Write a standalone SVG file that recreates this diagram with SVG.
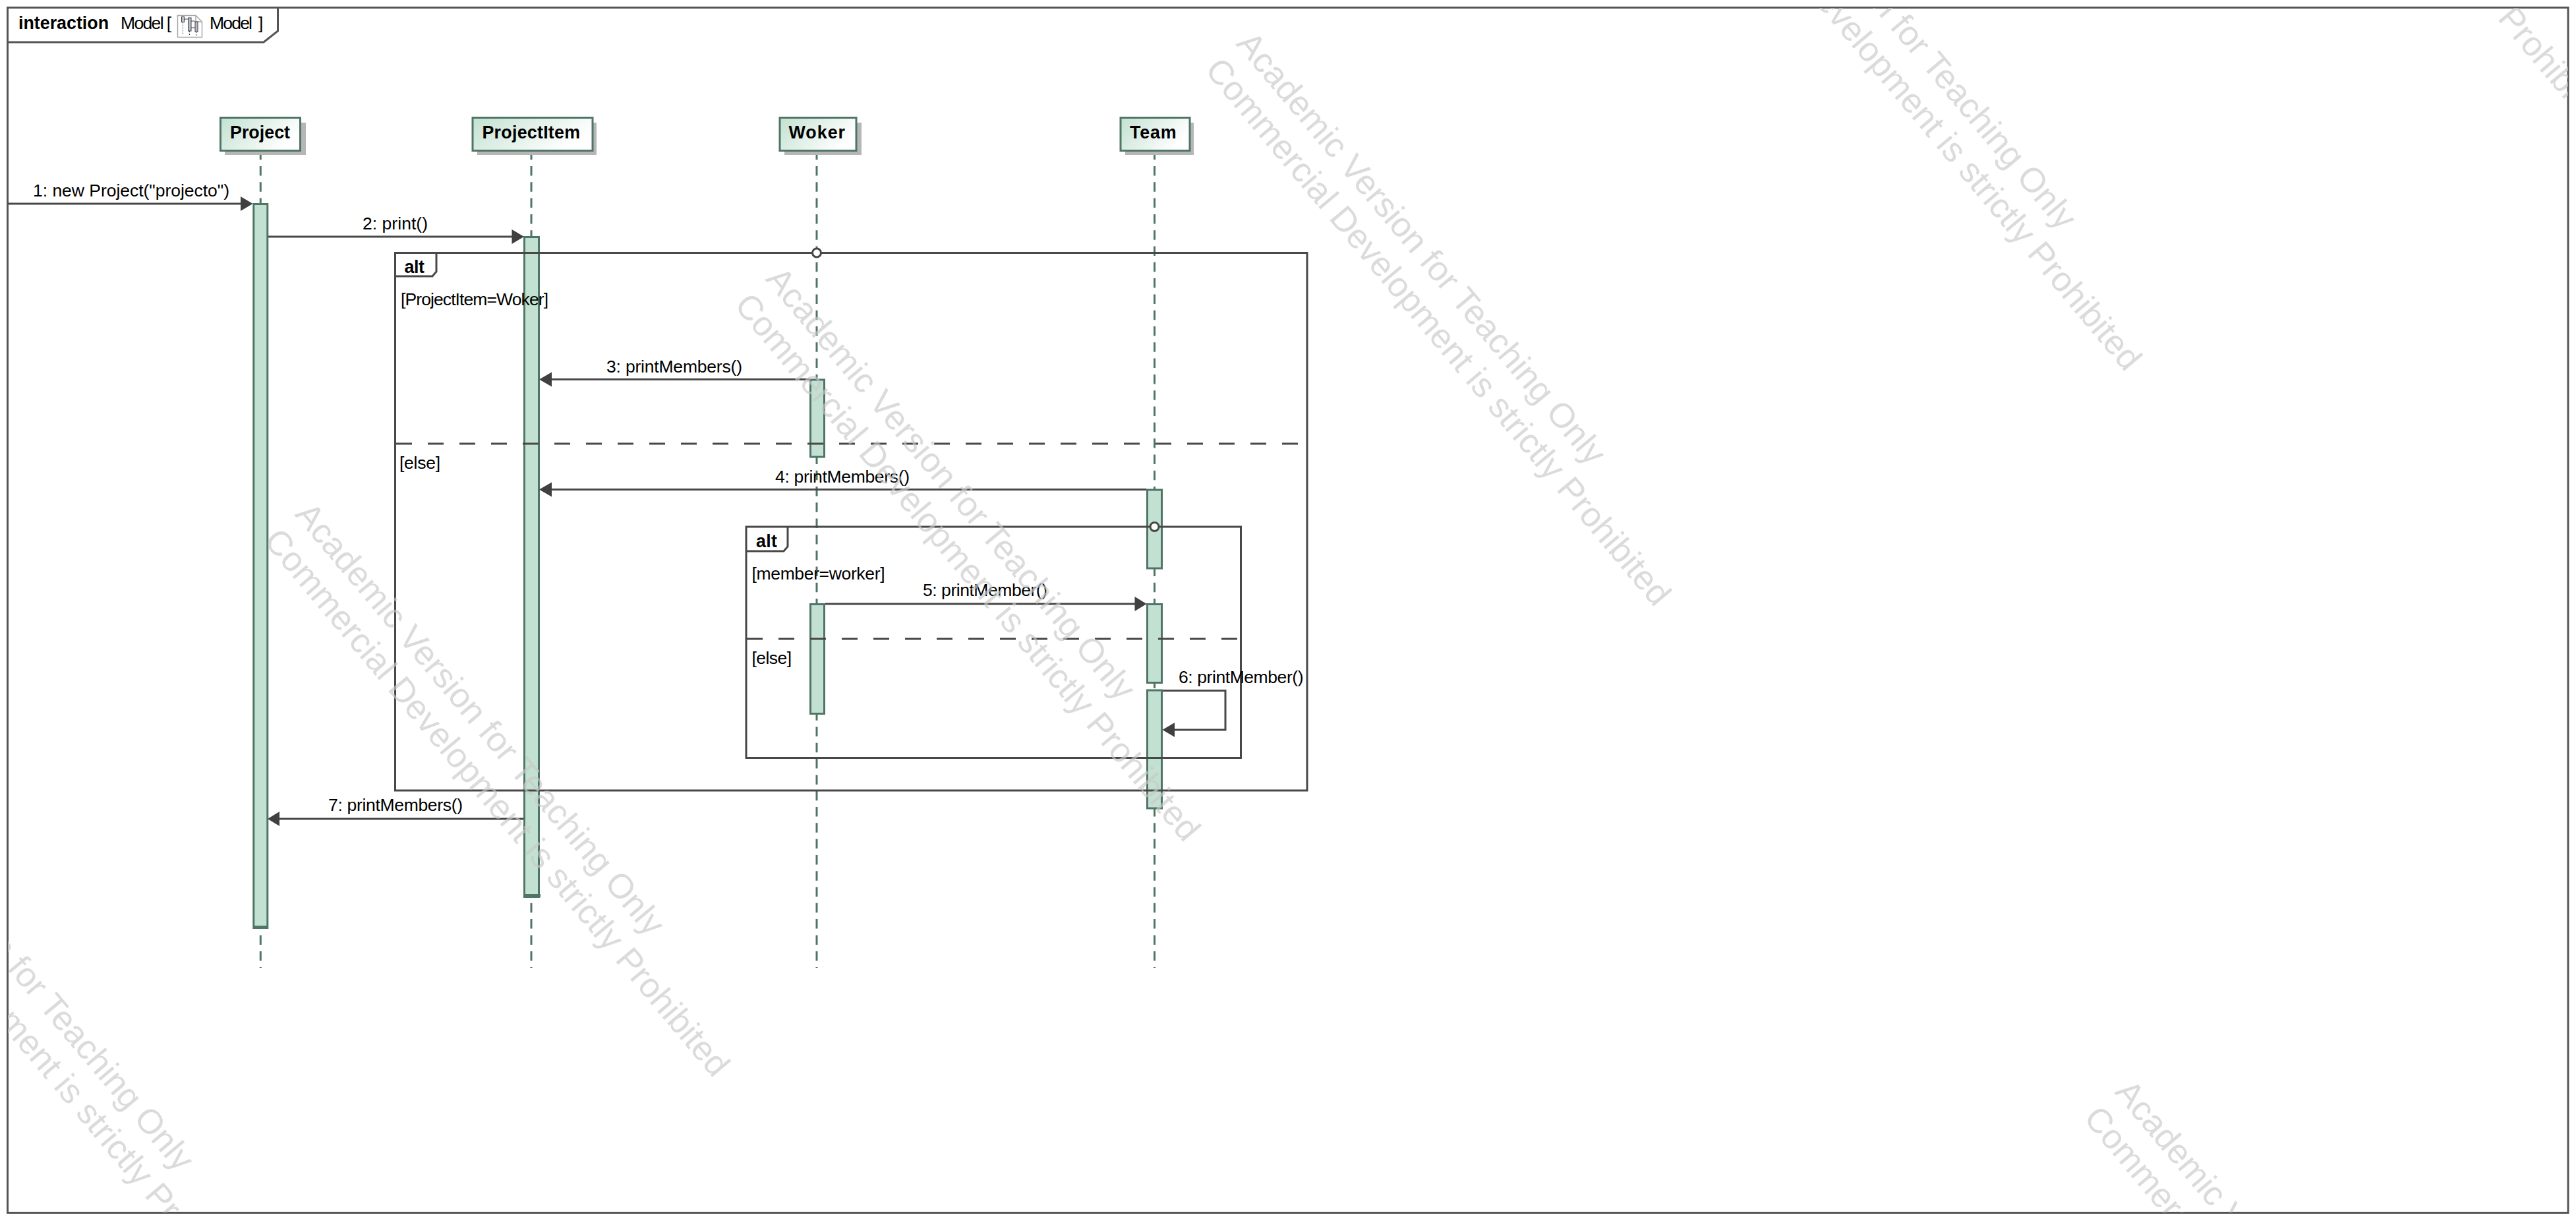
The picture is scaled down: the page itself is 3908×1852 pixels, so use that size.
<svg xmlns="http://www.w3.org/2000/svg" width="3908" height="1852" viewBox="0 0 3908 1852">
<style>
text{font-family:"Liberation Sans",Arial,sans-serif;fill:#000}
.t{font-size:26.5px}
.b{font-size:26.8px;font-weight:700}
.wm{font-size:52.2px;fill:#c8c8c8;fill-opacity:.65}
.frame{fill:none;stroke:#555;stroke-width:3}
.line{fill:none;stroke:#484848;stroke-width:3}
.div{fill:none;stroke:#484848;stroke-width:3;stroke-dasharray:24 24}
.life{fill:none;stroke:#4f7566;stroke-width:3;stroke-dasharray:14.5 9.8;stroke-dashoffset:1.3}
.box{fill:url(#g);stroke:#4f7566;stroke-width:3}
.shadow{fill:#b6b6b6}
.act{fill:#c3e1d2;stroke:#4f7566;stroke-width:3}
.head{fill:#404040}
.dot{fill:#fff;stroke:#484848;stroke-width:3}
</style>
<defs>
<linearGradient id="g" x1="0" y1="0" x2="1" y2="0.4"><stop offset="0" stop-color="#c3e1d2"/><stop offset="1" stop-color="#fff"/></linearGradient>
<clipPath id="fc"><rect x="12" y="12" width="3884" height="1827"/></clipPath>
</defs>
<rect width="3908" height="1852" fill="#fff"/>
<rect class="frame" x="11.5" y="11.5" width="3884.5" height="1828"/>

<g id="lifelines">
<path class="life" d="M395.3 229V1468"/>
<path class="life" d="M806 229V1468"/>
<path class="life" d="M1239 229V1468"/>
<path class="life" d="M1751.5 229V1468"/>
</g>

<g id="node-project"><rect class="shadow" x="341" y="186" width="123" height="49"/><rect class="box" x="334.5" y="178.5" width="121" height="50"/><text class="b" x="349" y="210" textLength="91">Project</text></g>
<g id="node-projectitem"><rect class="shadow" x="724" y="186" width="181" height="49"/><rect class="box" x="717" y="178.5" width="182" height="50"/><text class="b" x="731.5" y="210" textLength="148.5">ProjectItem</text></g>
<g id="node-woker"><rect class="shadow" x="1190" y="186" width="117" height="49"/><rect class="box" x="1183" y="178.5" width="116" height="50"/><text class="b" x="1196.5" y="210" textLength="85.5">Woker</text></g>
<g id="node-team"><rect class="shadow" x="1707" y="186" width="104" height="49"/><rect class="box" x="1700" y="178.5" width="105" height="50"/><text class="b" x="1714" y="210" textLength="70.5">Team</text></g>

<g id="activations">
<rect class="act" x="384.8" y="309.5" width="21" height="1098"/>
<path class="line" style="stroke:#4f7566" d="M384 1405.5H407"/>
<rect class="act" x="795.5" y="359.5" width="22" height="1001"/>
<path class="line" style="stroke:#4f7566;stroke-width:5" d="M794 1358.5H820"/>
<rect class="act" x="1229.5" y="576" width="21" height="117"/>
<rect class="act" x="1740.5" y="743" width="22" height="119"/>
<rect class="act" x="1229.5" y="916.5" width="21" height="166"/>
<rect class="act" x="1740.5" y="916.5" width="22" height="119"/>
<rect class="act" x="1740.5" y="1047" width="22" height="179"/>
</g>

<g id="fragment-alt-outer">
<path class="line" d="M599.5 383.5H1983V1199H599.5Z"/>
<path class="line" d="M599.5 419H656L662 412V383.5"/>
<path class="div" d="M601 673H1983"/>
<circle class="dot" cx="1239" cy="383.5" r="6.5"/>
<text class="b" x="613.5" y="414" textLength="30.5">alt</text>
<text class="t" x="608" y="463" textLength="224">[ProjectItem=Woker]</text>
<text class="t" x="606" y="711" textLength="62">[else]</text>
</g>
<g id="fragment-alt-inner">
<path class="line" d="M1132 799H1882.5V1149.5H1132Z"/>
<path class="line" d="M1132 836H1189L1195 829V799"/>
<path class="div" d="M1133 969H1882"/>
<circle class="dot" cx="1751.5" cy="799" r="6.5"/>
<text class="b" x="1147" y="830" textLength="32">alt</text>
<text class="t" x="1140.5" y="879" textLength="202">[member=worker]</text>
<text class="t" x="1140.5" y="1007" textLength="60.5">[else]</text>
</g>

<g id="connectors">
<path class="line" d="M12 309H368"/><path class="head" d="M383.5 309L365 298V320Z"/>
<path class="line" d="M407 359H778"/><path class="head" d="M795 359L776.5 348V370Z"/>
<path class="line" d="M1229 575.500H836"/><path class="head" d="M818 575.500L837 564.500V586.500Z"/>
<path class="line" d="M1739 742.500H836"/><path class="head" d="M818 742.500L837 731.500V753.500Z"/>
<path class="line" d="M1252 916H1724"/><path class="head" d="M1739.500 916L1721.500 905V927Z"/>
<path class="line" d="M1764 1047.500H1859V1107H1780"/><path class="head" d="M1763.500 1107L1782 1096V1118Z"/>
<path class="line" d="M794 1242H422"/><path class="head" d="M406 1242L424 1231V1253Z"/>
<text class="t" x="50" y="298" textLength="298">1: new Project("projecto")</text>
<text class="t" x="550" y="348" textLength="99">2: print()</text>
<text class="t" x="920" y="564.500" textLength="206">3: printMembers()</text>
<text class="t" x="1176" y="731.500" textLength="204">4: printMembers()</text>
<text class="t" x="1400" y="904" textLength="189">5: printMember()</text>
<text class="t" x="1788" y="1035.500" textLength="189.500">6: printMember()</text>
<text class="t" x="498" y="1230" textLength="204">7: printMembers()</text>
</g>

<g id="diagram-header">
<path class="frame" d="M11.500 64H400L421.500 47V11.500"/>
<text class="b" x="28" y="44" textLength="137">interaction</text>
<text class="t" x="183" y="44" textLength="77">Model [</text>
<g fill="none" stroke="#a8a8a8" stroke-width="1.500">
<path fill="#fff" d="M269.500 23.500H297L306.500 33V56.500H269.500Z"/><path d="M297 23.500V33H306.500"/>
</g>
<g fill="#b8bdd0" stroke="#444" stroke-width="1">
<rect x="275.500" y="25.500" width="4" height="8"/><rect x="285.500" y="27" width="4.500" height="20"/><rect x="296" y="33" width="4" height="15"/>
<path fill="none" stroke-dasharray="2 2" d="M277.500 33.500V52M287.500 47V54M298 48V54"/>
<path fill="none" d="M279.500 29H285M290 32H296M296 42H290"/>
</g>
<text class="t" x="318" y="44" textLength="65">Model</text>
<text class="t" x="392" y="44" textLength="7">]</text>
</g>

<g id="watermarks" clip-path="url(#fc)">
<g transform="translate(3302 -647) rotate(50)"><text class="wm">Academic Version for Teaching Only</text><text class="wm" y="62">Commercial Development is strictly Prohibited</text></g>
<g transform="translate(2588 -290) rotate(50)"><text class="wm">Academic Version for Teaching Only</text><text class="wm" y="62">Commercial Development is strictly Prohibited</text></g>
<g transform="translate(1874 67) rotate(50)"><text class="wm">Academic Version for Teaching Only</text><text class="wm" y="62">Commercial Development is strictly Prohibited</text></g>
<g transform="translate(1160 424) rotate(50)"><text class="wm">Academic Version for Teaching Only</text><text class="wm" y="62">Commercial Development is strictly Prohibited</text></g>
<g transform="translate(446 781) rotate(50)"><text class="wm">Academic Version for Teaching Only</text><text class="wm" y="62">Commercial Development is strictly Prohibited</text></g>
<g transform="translate(-268 1138) rotate(50)"><text class="wm">Academic Version for Teaching Only</text><text class="wm" y="62">Commercial Development is strictly Prohibited</text></g>
<g transform="translate(3207 1657) rotate(50)"><text class="wm">Academic Version for Teaching Only</text><text class="wm" y="62">Commercial Development is strictly Prohibited</text></g>
</g>
</svg>
